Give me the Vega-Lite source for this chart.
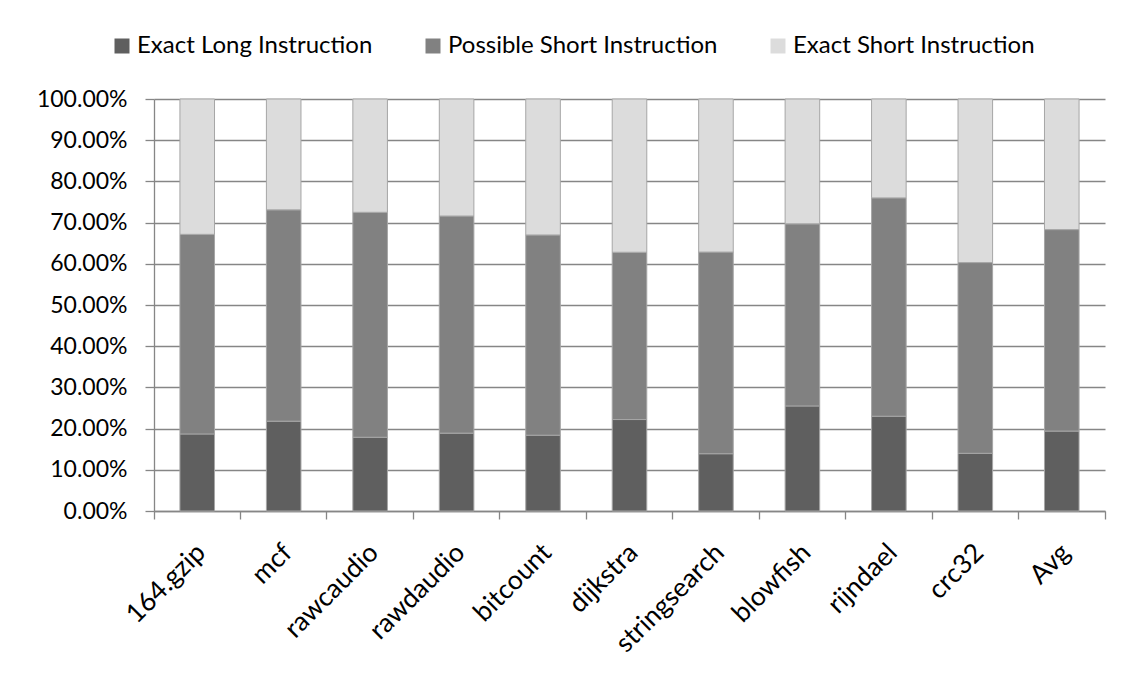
{
  "$schema": "https://vega.github.io/schema/vega-lite/v6.json",
  "width": 951,
  "height": 412,
  "autosize": {"type": "none"},
  "padding": {"left": 154, "top": 99, "right": 24, "bottom": 168},
  "background": "white",
  "config": {
    "view": {"stroke": null},
    "font": "Lato",
    "axis": {"labelFont": "Lato", "labelColor": "#000000", "domainColor": "#868686", "tickColor": "#868686", "gridColor": "#868686"},
    "legend": {"labelFont": "Lato", "labelColor": "#000000"}
  },
  "data": {
    "values": [
      {"bench": "164.gzip", "series": "Exact Long Instruction", "rank": 1, "share": 0.187},
      {"bench": "164.gzip", "series": "Possible Short Instruction", "rank": 2, "share": 0.4845},
      {"bench": "164.gzip", "series": "Exact Short Instruction", "rank": 3, "share": 0.3285},
      {"bench": "mcf", "series": "Exact Long Instruction", "rank": 1, "share": 0.218},
      {"bench": "mcf", "series": "Possible Short Instruction", "rank": 2, "share": 0.513},
      {"bench": "mcf", "series": "Exact Short Instruction", "rank": 3, "share": 0.269},
      {"bench": "rawcaudio", "series": "Exact Long Instruction", "rank": 1, "share": 0.179},
      {"bench": "rawcaudio", "series": "Possible Short Instruction", "rank": 2, "share": 0.546},
      {"bench": "rawcaudio", "series": "Exact Short Instruction", "rank": 3, "share": 0.275},
      {"bench": "rawdaudio", "series": "Exact Long Instruction", "rank": 1, "share": 0.189},
      {"bench": "rawdaudio", "series": "Possible Short Instruction", "rank": 2, "share": 0.527},
      {"bench": "rawdaudio", "series": "Exact Short Instruction", "rank": 3, "share": 0.284},
      {"bench": "bitcount", "series": "Exact Long Instruction", "rank": 1, "share": 0.184},
      {"bench": "bitcount", "series": "Possible Short Instruction", "rank": 2, "share": 0.486},
      {"bench": "bitcount", "series": "Exact Short Instruction", "rank": 3, "share": 0.33},
      {"bench": "dijkstra", "series": "Exact Long Instruction", "rank": 1, "share": 0.222},
      {"bench": "dijkstra", "series": "Possible Short Instruction", "rank": 2, "share": 0.406},
      {"bench": "dijkstra", "series": "Exact Short Instruction", "rank": 3, "share": 0.372},
      {"bench": "stringsearch", "series": "Exact Long Instruction", "rank": 1, "share": 0.139},
      {"bench": "stringsearch", "series": "Possible Short Instruction", "rank": 2, "share": 0.4895},
      {"bench": "stringsearch", "series": "Exact Short Instruction", "rank": 3, "share": 0.3715},
      {"bench": "blowfish", "series": "Exact Long Instruction", "rank": 1, "share": 0.255},
      {"bench": "blowfish", "series": "Possible Short Instruction", "rank": 2, "share": 0.442},
      {"bench": "blowfish", "series": "Exact Short Instruction", "rank": 3, "share": 0.303},
      {"bench": "rijndael", "series": "Exact Long Instruction", "rank": 1, "share": 0.23},
      {"bench": "rijndael", "series": "Possible Short Instruction", "rank": 2, "share": 0.53},
      {"bench": "rijndael", "series": "Exact Short Instruction", "rank": 3, "share": 0.24},
      {"bench": "crc32", "series": "Exact Long Instruction", "rank": 1, "share": 0.14},
      {"bench": "crc32", "series": "Possible Short Instruction", "rank": 2, "share": 0.463},
      {"bench": "crc32", "series": "Exact Short Instruction", "rank": 3, "share": 0.397},
      {"bench": "Avg", "series": "Exact Long Instruction", "rank": 1, "share": 0.194},
      {"bench": "Avg", "series": "Possible Short Instruction", "rank": 2, "share": 0.489},
      {"bench": "Avg", "series": "Exact Short Instruction", "rank": 3, "share": 0.317}
    ]
  },
  "mark": {"type": "bar", "width": {"band": 0.4}, "stroke": "#a6a6a6", "strokeWidth": 1},
  "encoding": {
    "x": {
      "field": "bench",
      "type": "nominal",
      "sort": null,
      "scale": {"paddingInner": 0, "paddingOuter": 0},
      "axis": {
        "title": null,
        "labelAngle": -45,
        "labelFontSize": 26.5,
        "labelPadding": 20,
        "labelOffset": -5,
        "bandPosition": 1,
        "tickExtra": true,
        "tickSize": 8,
        "tickWidth": 1.3,
        "domainWidth": 1.3,
        "grid": false
      }
    },
    "y": {
      "field": "share",
      "type": "quantitative",
      "stack": "zero",
      "scale": {"domain": [0, 1], "nice": false},
      "axis": {
        "title": null,
        "values": [0, 0.1, 0.2, 0.3, 0.4, 0.5, 0.6, 0.7, 0.8, 0.9, 1],
        "format": ".2%",
        "labelFontSize": 23,
        "labelPadding": 18,
        "tickSize": 9,
        "tickWidth": 1.3,
        "domainWidth": 1.3,
        "gridWidth": 1.3
      }
    },
    "color": {
      "field": "series",
      "type": "nominal",
      "sort": ["Exact Long Instruction", "Possible Short Instruction", "Exact Short Instruction"],
      "scale": {
        "domain": ["Exact Long Instruction", "Possible Short Instruction", "Exact Short Instruction"],
        "range": ["#5f5f5f", "#818181", "#dcdcdc"]
      },
      "legend": {
        "title": null,
        "orient": "none",
        "direction": "horizontal",
        "legendX": -44,
        "legendY": -65,
        "symbolType": "square",
        "symbolSize": 225,
        "symbolStrokeWidth": 0,
        "labelFontSize": 24,
        "labelLimit": 0,
        "labelOffset": 3,
        "columnPadding": 48
      }
    },
    "order": {"field": "rank", "type": "quantitative"}
  }
}
